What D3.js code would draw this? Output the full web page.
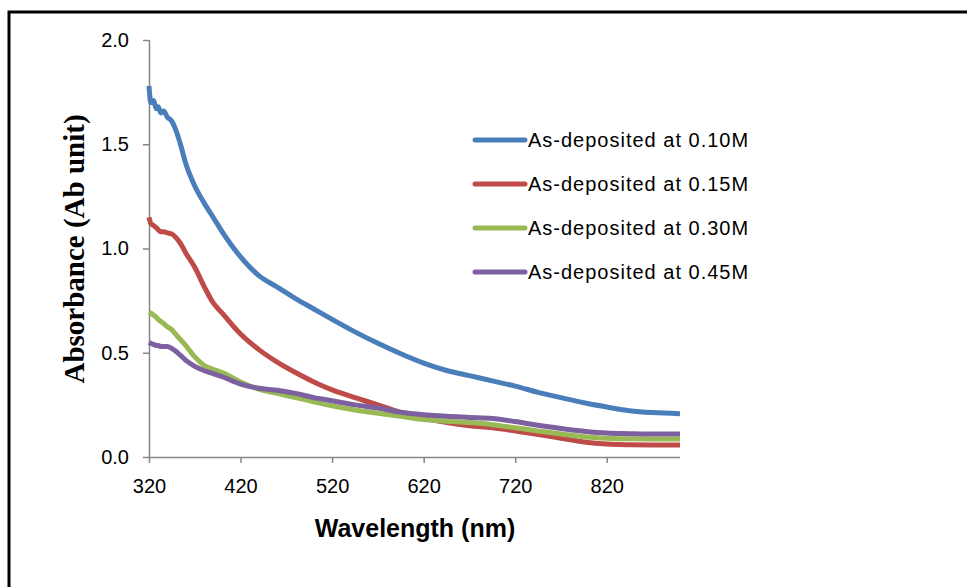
<!DOCTYPE html>
<html>
<head>
<meta charset="utf-8">
<script src="https://cdn.jsdelivr.net/npm/d3@7"></script>
<style>
  body { margin: 0; background: #fff; }
</style>
</head>
<body>
<div class="chart"></div>
<script>
var width = 967, height = 587

// wavelengths (nm) shared by all series
var wavelengths = [320,322,325,328,330,333,336,340,345,350,355,360,370,380,390,400,420,440,460,480,500,520,545,570,595,620,645,670,695,720,745,770,795,820,845,870,900]

var abs010 = [1.78,1.70,1.71,1.67,1.68,1.65,1.66,1.63,1.61,1.56,1.49,1.41,1.30,1.22,1.15,1.08,0.96,0.87,0.815,0.76,0.71,0.66,0.60,0.545,0.495,0.45,0.415,0.39,0.365,0.34,0.31,0.285,0.26,0.24,0.222,0.213,0.208]
var abs015 = [1.15,1.12,1.11,1.10,1.09,1.08,1.08,1.075,1.07,1.05,1.02,0.98,0.91,0.82,0.74,0.69,0.59,0.515,0.455,0.405,0.36,0.322,0.285,0.25,0.213,0.185,0.165,0.15,0.14,0.125,0.108,0.09,0.072,0.062,0.059,0.058,0.058]
var abs030 = [0.695,0.69,0.68,0.67,0.66,0.65,0.64,0.625,0.61,0.585,0.56,0.535,0.48,0.44,0.42,0.405,0.36,0.325,0.305,0.285,0.265,0.245,0.225,0.21,0.195,0.18,0.172,0.165,0.155,0.14,0.125,0.11,0.097,0.09,0.087,0.086,0.086]
var abs045 = [0.55,0.545,0.54,0.535,0.535,0.53,0.53,0.53,0.52,0.505,0.485,0.465,0.435,0.415,0.40,0.385,0.35,0.33,0.32,0.305,0.285,0.27,0.25,0.235,0.215,0.203,0.195,0.19,0.185,0.17,0.152,0.137,0.124,0.115,0.112,0.11,0.11]

var seriesNames = ['As-deposited at 0.10M','As-deposited at 0.15M','As-deposited at 0.30M','As-deposited at 0.45M']
var seriesColors = ['#4a7ebb','#be4b48','#98b954','#7d60a0']
var xTicks = [320,420,520,620,720,820]
var yTicks = [0,0.5,1.0,1.5,2.0]

var series = [abs010, abs015, abs030, abs045].map(function(vals, i) {
    return { name: seriesNames[i], color: seriesColors[i],
             points: wavelengths.map(function(w, j) { return [w, vals[j]] }) }
})

var svg = d3.select('.chart')
    .append('svg')
    .attr('width', width)
    .attr('height', height)

// outer frame (left + top only visible)
svg.append('path')
    .attr('d', 'M9,' + height + 'V12H' + width)
    .attr('fill', 'none')
    .attr('stroke', '#000')
    .attr('stroke-width', 3)

var x = d3.scaleLinear().domain([320, 900]).range([149, 680])
var y = d3.scaleLinear().domain([0, 2]).range([457, 40])

var yAxis = svg.append('g')
    .attr('transform', 'translate(149,0)')
    .call(d3.axisLeft(y).tickValues(yTicks).tickFormat(d3.format('.1f')).tickSize(6).tickPadding(14))
var xAxis = svg.append('g')
    .attr('transform', 'translate(0,457)')
    .call(d3.axisBottom(x).tickValues(xTicks).tickSize(6).tickPadding(16))

svg.selectAll('.domain, .tick line')
    .attr('stroke', '#868686')
    .attr('stroke-width', 1.5)
svg.selectAll('.tick text')
    .style('font-family', '"Liberation Sans", Arial, sans-serif')
    .style('font-size', '20px')
    .attr('fill', '#000')
xAxis.select('.domain').attr('d', 'M149,0.5H680')
yAxis.select('.domain').attr('d', 'M0.5,40V457')

var line = d3.line()
    .x(function(d) { return x(d[0]) })
    .y(function(d) { return y(d[1]) })
    .curve(d3.curveMonotoneX)

svg.selectAll('.series')
    .data(series)
    .enter()
    .append('path')
    .attr('d', function(d) { return line(d.points) })
    .attr('fill', 'none')
    .attr('stroke', function(d) { return d.color })
    .attr('stroke-width', 5)
    .attr('stroke-linejoin', 'round')

// legend
var legend = svg.selectAll('.legend')
    .data(series)
    .enter()
    .append('g')
    .attr('transform', function(d, i) { return 'translate(475,' + (140 + i * 44) + ')' })
legend.append('line')
    .attr('x1', 0).attr('x2', 50)
    .attr('stroke', function(d) { return d.color })
    .attr('stroke-width', 5)
    .attr('stroke-linecap', 'round')
legend.append('text')
    .attr('x', 53)
    .attr('dy', '0.35em')
    .text(function(d) { return d.name })
    .style('font-family', '"Liberation Sans", Arial, sans-serif')
    .style('font-size', '20px')
    .style('letter-spacing', '1px')

// axis titles
svg.append('text')
    .attr('x', 415)
    .attr('y', 537)
    .attr('text-anchor', 'middle')
    .text('Wavelength (nm)')
    .style('font-family', '"Liberation Sans", Arial, sans-serif')
    .style('font-weight', 'bold')
    .style('font-size', '25px')

svg.append('text')
    .attr('transform', 'translate(84,249) rotate(-90)')
    .attr('text-anchor', 'middle')
    .text('Absorbance (Ab unit)')
    .style('font-family', '"Liberation Serif", "Times New Roman", serif')
    .style('font-weight', 'bold')
    .style('font-size', '29px')
</script>
</body>
</html>
